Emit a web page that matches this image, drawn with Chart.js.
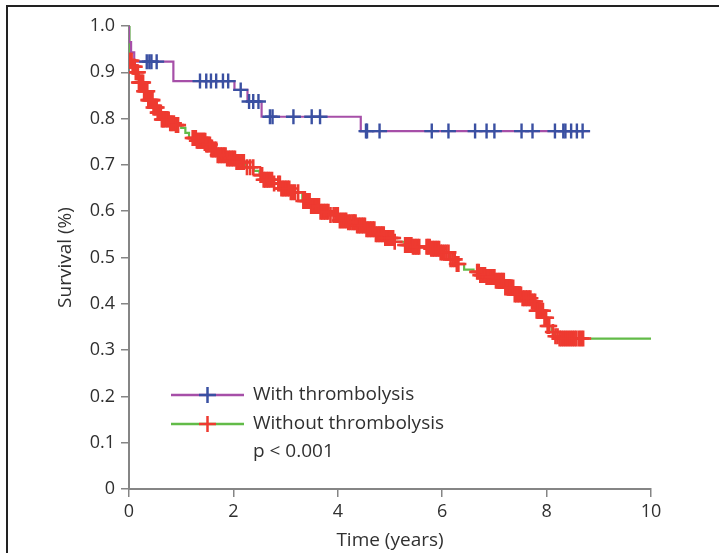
<!DOCTYPE html>
<html><head><meta charset="utf-8">
<script src="https://cdn.jsdelivr.net/npm/chart.js@4.4.1/dist/chart.umd.min.js"></script>
<style>html,body{margin:0;padding:0;background:#fff;}#wrap{width:719px;height:553px;position:relative;}</style>
</head><body><div id="wrap"><canvas id="c" width="719" height="553"></canvas></div>
<script>
const xTickLabels = ['0','2','4','6','8','10'];
const yTickLabels = ['0','0.1','0.2','0.3','0.4','0.5','0.6','0.7','0.8','0.9','1.0'];
const seriesNames = ['With thrombolysis','Without thrombolysis'];
const pValueText = 'p < 0.001';

// With thrombolysis: event times and survival after each event
const withTimes = [0, 0.00, 0.04, 0.10, 0.85, 2.02, 2.27, 2.54, 4.44];
const withSurv  = [1.0, 0.965, 0.943, 0.923, 0.881, 0.862, 0.837, 0.804, 0.773];
const withEndTime = 8.83;
const withCensor = [0.34,0.39,0.43,0.53,1.36,1.48,1.57,1.67,1.80,1.90,2.14,2.30,2.38,2.48,2.70,2.75,3.15,3.50,3.66,4.54,4.56,4.80,5.80,6.12,6.63,6.85,7.00,7.52,7.73,8.16,8.32,8.36,8.47,8.58,8.69];

// Without thrombolysis
const withoutTimes = [0, 0.01, 0.06, 0.12, 0.19, 0.28, 0.37, 0.46, 0.55, 0.63, 0.77, 0.90, 1.00, 1.08, 1.15, 1.30, 1.47, 1.56, 1.69, 1.87, 2.04, 2.22, 2.39, 2.50, 2.57, 2.75, 2.92, 3.10, 3.32, 3.49, 3.67, 3.85, 4.02, 4.20, 4.37, 4.55, 4.73, 4.90, 5.08, 5.28, 5.43, 5.78, 5.96, 6.14, 6.28, 6.42, 6.60, 6.72, 6.84, 7.02, 7.19, 7.37, 7.54, 7.72, 7.81, 7.94, 8.02, 8.10, 8.16, 8.25];
const withoutSurv  = [1.0, 0.925, 0.912, 0.900, 0.878, 0.859, 0.840, 0.824, 0.813, 0.798, 0.790, 0.786, 0.780, 0.769, 0.758, 0.752, 0.744, 0.733, 0.721, 0.714, 0.706, 0.695, 0.687, 0.678, 0.668, 0.660, 0.649, 0.641, 0.622, 0.611, 0.599, 0.592, 0.580, 0.576, 0.569, 0.561, 0.550, 0.542, 0.534, 0.527, 0.523, 0.519, 0.511, 0.496, 0.486, 0.474, 0.469, 0.462, 0.458, 0.450, 0.435, 0.420, 0.412, 0.405, 0.385, 0.370, 0.352, 0.339, 0.330, 0.325];
const withoutEndTime = 10;
const withoutCensor = [
 0.01,0.03,0.05,0.07,0.09,0.11,0.13,0.15,0.17,0.19,0.21,0.23,0.25,0.27,0.29,0.31,0.33,0.35,0.37,0.39,0.41,0.43,0.45,0.47,0.49,0.51,0.53,0.55,0.57,0.59,0.61,0.63,0.65,0.67,0.70,0.73,0.76,0.79,0.82,0.86,0.90,0.94,
 1.22,1.24,1.26,1.28,1.30,1.32,1.34,1.36,1.38,1.40,1.42,1.44,1.46,1.48,1.50,1.52,1.55,1.58,1.61,1.64,1.67,1.70,1.73,1.76,1.79,1.82,1.85,1.88,1.91,1.94,1.97,2.00,2.03,2.06,2.09,2.12,2.16,2.20,2.26,2.32,2.38,
 2.52,2.55,2.58,2.61,2.64,2.67,2.70,2.74,2.78,2.86,2.89,2.92,2.95,2.98,3.01,3.04,3.07,3.10,3.14,3.18,3.24,
 3.34,3.37,3.40,3.43,3.46,3.49,3.52,3.55,3.58,3.61,3.64,3.67,3.70,3.73,3.76,3.79,3.82,3.86,3.92,3.96,4.00,4.04,4.08,4.12,4.16,4.20,4.24,4.28,4.31,4.34,4.37,4.40,4.43,4.46,4.49,4.52,4.55,4.58,4.61,4.64,4.67,4.70,4.73,4.76,4.79,4.82,4.85,4.88,4.91,4.94,4.97,5.00,5.03,5.06,5.09,
 5.29,5.32,5.35,5.38,5.41,5.44,5.47,5.50,5.53,5.56,5.70,5.73,5.76,5.79,5.82,5.85,5.88,5.91,5.94,5.97,6.00,6.04,6.08,6.12,6.16,6.20,6.24,6.28,6.31,
 6.67,6.70,6.73,6.76,6.79,6.82,6.85,6.88,6.91,6.94,6.97,7.00,7.03,7.06,7.09,7.12,7.15,7.18,7.21,7.24,7.27,7.30,7.33,7.36,7.39,7.42,7.45,7.48,7.51,7.54,7.57,7.60,7.63,7.66,7.69,7.72,7.75,7.78,7.81,7.84,7.87,7.90,7.93,7.96,7.99,8.02,8.05,8.12,8.17,8.21,8.25,8.29,8.33,8.37,8.41,8.45,8.49,8.53,8.57,8.62,8.66,8.70];

const colors = { purple:'#a64fa8', blue:'#3a50a2', green:'#62bb48', red:'#ee3a30', axis:'#858585', text:'#303030', frame:'#222222' };
const FONT = '"Open Sans", "Noto Sans", sans-serif';

function stepPoints(times, surv, end) {
  const pts = [];
  for (let i = 0; i < times.length; i++) {
    if (i > 0) pts.push({x: times[i], y: surv[i-1]});
    pts.push({x: times[i], y: surv[i]});
  }
  pts.push({x: end, y: surv[surv.length-1]});
  return pts;
}
function survAt(times, surv, t) {
  let s = surv[0];
  for (let i = 0; i < times.length; i++) if (times[i] <= t) s = surv[i];
  return s;
}

const overlay = {
  id: 'overlay',
  afterDraw(chart) {
    const ctx = chart.ctx;
    ctx.save();
    ctx.strokeStyle = colors.frame; ctx.lineWidth = 2;
    ctx.beginPath(); ctx.moveTo(7, 553); ctx.lineTo(7, 6); ctx.lineTo(719, 6); ctx.stroke();
    const items = [
      {name: seriesNames[0], line: colors.purple, mark: colors.blue, y: 395},
      {name: seriesNames[1], line: colors.green, mark: colors.red, y: 424}
    ];
    ctx.font = '19px ' + FONT; ctx.textBaseline = 'middle'; ctx.textAlign = 'left';
    items.forEach(it => {
      ctx.strokeStyle = it.line; ctx.lineWidth = 2.5;
      ctx.beginPath(); ctx.moveTo(171, it.y); ctx.lineTo(244, it.y); ctx.stroke();
      ctx.strokeStyle = it.mark; ctx.lineWidth = 2.5;
      ctx.beginPath(); ctx.moveTo(199, it.y); ctx.lineTo(216, it.y); ctx.moveTo(207.5, it.y-8); ctx.lineTo(207.5, it.y+8); ctx.stroke();
      ctx.fillStyle = colors.text; ctx.fillText(it.name, 253, it.y);
    });
    ctx.fillText(pValueText, 253, 452);
    ctx.restore();
  }
};

new Chart(document.getElementById('c'), {
  type: 'scatter',
  data: {
    datasets: [
      { label: seriesNames[0] + ' censored', data: withCensor.map(t => ({x: t, y: survAt(withTimes, withSurv, t)})),
        pointStyle: 'cross', pointRadius: 7.5, pointBorderWidth: 2.4, borderColor: colors.blue, backgroundColor: colors.blue, showLine: false, order: 1 },
      { label: seriesNames[1] + ' censored', data: withoutCensor.map(t => ({x: t, y: survAt(withoutTimes, withoutSurv, t)})),
        pointStyle: 'cross', pointRadius: 8, pointBorderWidth: 2.6, borderColor: colors.red, backgroundColor: colors.red, showLine: false, order: 2 },
      { label: seriesNames[0], data: stepPoints(withTimes, withSurv, withEndTime), showLine: true,
        borderColor: colors.purple, borderWidth: 2.2, pointRadius: 0, fill: false, order: 3 },
      { label: seriesNames[1], data: stepPoints(withoutTimes, withoutSurv, withoutEndTime), showLine: true,
        borderColor: colors.green, borderWidth: 2.2, pointRadius: 0, fill: false, order: 4 }
    ]
  },
  options: {
    responsive: false, animation: false, devicePixelRatio: 1,
    layout: { padding: { left: 50, top: 26, right: 68, bottom: 0 } },
    plugins: { legend: { display: false }, tooltip: { enabled: false } },
    scales: {
      x: {
        type: 'linear', min: 0, max: 10,
        afterFit: s => { s.height = 64; },
        ticks: { stepSize: 2, padding: 4, color: colors.text, font: { family: FONT, size: 18 },
                 callback: (v) => xTickLabels[Math.round(v / 2)] },
        grid: { drawOnChartArea: false, tickLength: 8, color: colors.axis, lineWidth: 1.5 },
        border: { color: colors.axis, width: 2 },
        title: { display: true, text: 'Time (years)', color: colors.text, font: { family: FONT, size: 19 }, padding: { top: 0, bottom: 1 } }
      },
      y: {
        type: 'linear', min: 0, max: 1,
        afterFit: s => { s.width = 79; },
        ticks: { stepSize: 0.1, padding: 6, color: colors.text, font: { family: FONT, size: 18 },
                 callback: (v) => yTickLabels[Math.round(v * 10)] },
        grid: { drawOnChartArea: false, tickLength: 8, color: colors.axis, lineWidth: 1.5 },
        border: { color: colors.axis, width: 2 },
        title: { display: true, text: 'Survival (%)', color: colors.text, font: { family: FONT, size: 19 }, padding: { top: 4, bottom: 0 } }
      }
    }
  },
  plugins: [overlay]
});
</script></body></html>
